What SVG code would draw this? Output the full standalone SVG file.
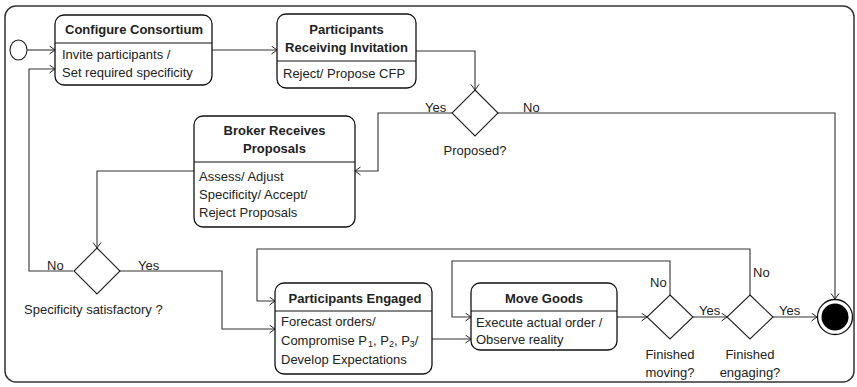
<svg xmlns="http://www.w3.org/2000/svg" width="857" height="387" viewBox="0 0 857 387">
<defs>
<marker id="arr" markerUnits="userSpaceOnUse" markerWidth="10" markerHeight="10" refX="7" refY="4.5" orient="auto">
<path d="M1.5,0.5 L7,4.5 L1.5,8.5" fill="none" stroke="#222" stroke-width="1"/>
</marker>
</defs>
<style>
.frame{fill:none;stroke:#333;stroke-width:1.5}
.box{fill:#fff;stroke:#111;stroke-width:1.3}
.div{stroke:#111;stroke-width:1.2}
.dia{fill:#fff;stroke:#222;stroke-width:1.1}
.c{fill:none;stroke:#333;stroke-width:1.1;marker-end:url(#arr)}
text{font-family:"Liberation Sans",Arial,sans-serif;font-size:13px;fill:#222}
.t{font-weight:bold;text-anchor:middle}
.m{text-anchor:middle}
.sub{font-size:9px}
</style>
<rect class="frame" x="5" y="6" width="849" height="376" rx="11"/>

<g id="connectors">
<path class="c" d="M27,50 H55"/>
<path class="c" d="M212,50 H277"/>
<path class="c" d="M416,51 H475 V90"/>
<path class="c" d="M452,113 H378 V171 H355"/>
<path class="c" d="M498,113 H835 V299"/>
<path class="c" d="M194,171 H97 V248"/>
<path class="c" d="M73,271 H29 V69 H55"/>
<path class="c" d="M120,271 H222 V329 H275"/>
<path class="c" d="M432,339 H471"/>
<path class="c" d="M617,317 H647"/>
<path class="c" d="M670,295 V261 H452 V317 H471"/>
<path class="c" d="M693,317 H727"/>
<path class="c" d="M750,295 V249 H257 V301 H275"/>
<path class="c" d="M773,317 H817"/>
<text x="425" y="112">Yes</text>
<text x="523" y="112">No</text>
<text x="47" y="270">No</text>
<text x="138" y="270">Yes</text>
<text x="650" y="287">No</text>
<text x="753" y="277">No</text>
<text x="699" y="315">Yes</text>
<text x="779" y="315">Yes</text>
</g>

<g id="start">
<ellipse cx="18.5" cy="50" rx="8.5" ry="10" fill="#fff" stroke="#222" stroke-width="1.1"/>
</g>

<g id="configure">
<rect class="box" x="55" y="15" width="157" height="70" rx="9"/>
<line class="div" x1="55" y1="43" x2="212" y2="43"/>
<text class="t" x="134" y="34">Configure Consortium</text>
<text x="62" y="59">Invite participants  /</text>
<text x="62" y="77">Set required specificity</text>
</g>

<g id="receiving">
<rect class="box" x="277" y="14" width="139" height="74" rx="9"/>
<line class="div" x1="277" y1="61" x2="416" y2="61"/>
<text class="t" x="346.5" y="34">Participants</text>
<text class="t" x="346.5" y="52">Receiving Invitation</text>
<text x="283" y="78">Reject/  Propose CFP</text>
</g>

<g id="proposed">
<polygon class="dia" points="475,90 498,113 475,136 452,113"/>
<text class="m" x="475" y="155">Proposed?</text>
</g>

<g id="broker">
<rect class="box" x="194" y="116" width="161" height="111" rx="9"/>
<line class="div" x1="194" y1="162" x2="355" y2="162"/>
<text class="t" x="274.5" y="135">Broker Receives</text>
<text class="t" x="274.5" y="153">Proposals</text>
<text x="199" y="181">Assess/ Adjust</text>
<text x="199" y="199">Specificity/  Accept/</text>
<text x="199" y="217">Reject Proposals</text>
</g>

<g id="specificity">
<polygon class="dia" points="97,248 120,271 97,294 74,271"/>
<text x="24" y="314">Specificity satisfactory ?</text>
</g>

<g id="engaged">
<rect class="box" x="275" y="283" width="157" height="91" rx="9"/>
<line class="div" x1="275" y1="311" x2="432" y2="311"/>
<text class="t" x="355" y="303">Participants Engaged</text>
<text x="281" y="326">Forecast orders/</text>
<text x="281" y="345">Compromise P<tspan class="sub" dx="1" dy="2">1</tspan><tspan dy="-2">, P</tspan><tspan class="sub" dy="2">2</tspan><tspan dy="-2">, P</tspan><tspan class="sub" dy="2">3</tspan><tspan dy="-2">/</tspan></text>
<text x="281" y="364">Develop Expectations</text>
</g>

<g id="move">
<rect class="box" x="471" y="283" width="146" height="67" rx="9"/>
<line class="div" x1="471" y1="311" x2="617" y2="311"/>
<text class="t" x="544" y="303">Move Goods</text>
<text x="476" y="327">Execute actual order /</text>
<text x="476" y="344">Observe reality</text>
</g>

<g id="moving">
<polygon class="dia" points="670,295 693,317 670,339 647,317"/>
<text class="m" x="670" y="359">Finished</text>
<text class="m" x="670" y="377">moving?</text>
</g>

<g id="engaging">
<polygon class="dia" points="750,295 773,317 750,339 727,317"/>
<text class="m" x="750" y="359">Finished</text>
<text class="m" x="750" y="377">engaging?</text>
</g>

<g id="final">
<circle cx="835" cy="317" r="17.5" fill="#fff" stroke="#111" stroke-width="1.3"/>
<circle cx="835" cy="317" r="13.5" fill="#000"/>
</g>
</svg>
